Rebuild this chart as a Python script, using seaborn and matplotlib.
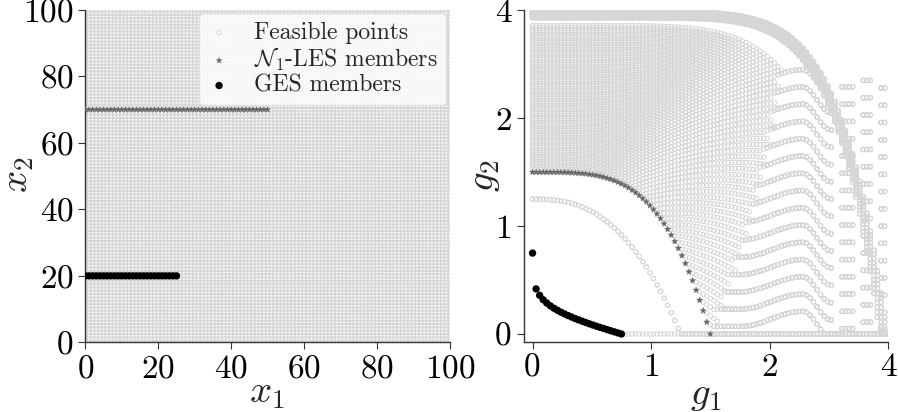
import numpy as np
import pandas as pd
import matplotlib
matplotlib.use("Agg")
import matplotlib.pyplot as plt
import seaborn as sns

# ---------------- data ----------------
x1_levels = list(range(0, 101))          # decision variable x1 (integers)
x2_levels = list(range(0, 101))          # decision variable x2 (integers)

ges_x2 = 20
ges_x1 = list(range(0, 26))
ges_g1 = [0.00, 0.03, 0.06, 0.09, 0.12, 0.15, 0.18, 0.21, 0.24, 0.27, 0.30, 0.33, 0.36,
          0.39, 0.42, 0.45, 0.48, 0.51, 0.54, 0.57, 0.60, 0.63, 0.66, 0.69, 0.72, 0.75]
ges_g2 = [0.750, 0.418, 0.358, 0.317, 0.287, 0.261, 0.239, 0.220, 0.202, 0.186, 0.171,
          0.157, 0.143, 0.130, 0.118, 0.106, 0.094, 0.083, 0.072, 0.061, 0.051, 0.040,
          0.030, 0.020, 0.010, 0.000]

les_x2 = 70
les_x1 = list(range(0, 51))
les_g1 = [0.00, 0.03, 0.06, 0.09, 0.12, 0.15, 0.18, 0.21, 0.24, 0.27, 0.30, 0.33, 0.36,
          0.39, 0.42, 0.45, 0.48, 0.51, 0.54, 0.57, 0.60, 0.63, 0.66, 0.69, 0.72, 0.75,
          0.78, 0.81, 0.84, 0.87, 0.90, 0.93, 0.96, 0.99, 1.02, 1.05, 1.08, 1.11, 1.14,
          1.17, 1.20, 1.23, 1.26, 1.29, 1.32, 1.35, 1.38, 1.41, 1.44, 1.47, 1.50]
les_g2 = [1.500, 1.500, 1.500, 1.500, 1.500, 1.500, 1.500, 1.500, 1.499, 1.499, 1.497,
          1.495, 1.493, 1.491, 1.488, 1.485, 1.480, 1.475, 1.469, 1.462, 1.454, 1.444,
          1.434, 1.422, 1.408, 1.392, 1.375, 1.356, 1.334, 1.311, 1.285, 1.256, 1.225,
          1.191, 1.153, 1.113, 1.070, 1.022, 0.971, 0.917, 0.858, 0.795, 0.727, 0.654,
          0.577, 0.495, 0.407, 0.314, 0.216, 0.111, 0.000]

g_ticks = [0, 1, 2, 4]
x_ticks = [0, 20, 40, 60, 80, 100]


# -------- objective map of the test problem (position units, axis is symlog base 2) -----
def plateau(x2):
    if x2 == ges_x2:
        return 0.75
    if x2 in (19, 21):
        return 1.25
    if 40 <= x2 <= 100:
        d = abs(x2 - les_x2)
        if x2 <= les_x2:
            return 1.5 + 0.0453 * d
        return 1.5 + 0.0453 * (d - 0.5)
    return 2.93 + 0.006 * ((x2 * 7) % 11)


def wave(u, L):
    w = np.zeros_like(u)
    m1 = (u > 1.75) & (u <= 2.28)
    w[m1] = 0.14 * (1 - np.cos(np.pi * (u[m1] - 1.75) / 0.53)) / 2
    m2 = (u > 2.28) & (u <= 2.52)
    w[m2] = 0.14 - 0.24 * (1 - np.cos(np.pi * (u[m2] - 2.28) / 0.24)) / 2
    # irregular tail: small clusters, the rest collapses onto g2 = 0
    tail = u > 2.52
    w[tail] = -L - 1.0
    c1 = (u > 2.60) & (u < 2.70)
    w[c1] = -0.02
    c2 = (u > 2.76) & (u < 2.86)
    w[c2] = 0.04
    c3 = (u > 2.92) & (u < 2.97)
    w[c3] = -0.03
    return w


def curve(x2, x1):
    u = 0.03 * np.asarray(x1, dtype=float)
    if x2 == ges_x2:
        v = np.zeros_like(u)
        v[:len(ges_g2)] = ges_g2
        return u, v
    if x2 == les_x2:
        v = np.zeros_like(u)
        v[:len(les_g2)] = les_g2
        return u, v
    G = plateau(x2)
    if G < 1.5:
        a = 2.6
    elif G < 2.9:
        a = 3.8 + 1.8 * (G - 1.5)
    else:
        a = 8.0
    t = np.clip(u / G, 0, 1)
    v = G * (1 - t ** a)
    if 40 <= x2 <= 100:
        d = abs(x2 - les_x2)
        L = 0.07 + 0.16 * ((d - 1) // 2)
        floor = L + wave(u, L)
        v = np.where(u > 2.52, floor, np.maximum(v, floor))
    return u, np.clip(v, 0, None)


def to_value(p):
    p = np.asarray(p, dtype=float)
    return np.where(p <= 2, p, 2 * 2 ** (p - 2))


rows = []
for x2 in x2_levels:
    u, v = curve(x2, x1_levels)
    for x1, uu, vv in zip(x1_levels, u, v):
        rows.append((x1, x2, uu, vv))
feas = pd.DataFrame(rows, columns=["x1", "x2", "p1", "p2"])
feas["g1"] = to_value(feas["p1"])
feas["g2"] = to_value(feas["p2"])

ges = pd.DataFrame({"x1": ges_x1, "x2": [ges_x2] * len(ges_x1), "g1": ges_g1, "g2": ges_g2})
les = pd.DataFrame({"x1": les_x1, "x2": [les_x2] * len(les_x1), "g1": les_g1, "g2": les_g2})

# ---------------- style ----------------
sns.set_style("ticks")
plt.rcParams.update({
    "font.family": "serif",
    "font.serif": ["cmr10", "DejaVu Serif"],
    "mathtext.fontset": "cm",
    "axes.formatter.use_mathtext": True,
    "axes.unicode_minus": False,
    "axes.edgecolor": "#333333",
    "axes.linewidth": 1.0,
    "xtick.color": "#333333",
    "ytick.color": "#333333",
    "xtick.labelcolor": "black",
    "ytick.labelcolor": "black",
    "xtick.major.size": 5,
    "ytick.major.size": 5,
    "xtick.labelsize": 24,
    "ytick.labelsize": 24,
})

fig = plt.figure(figsize=(8.98, 4.12), dpi=100)
axL = fig.add_axes([0.095, 0.169, 0.406, 0.807])
axR = fig.add_axes([0.583, 0.171, 0.406, 0.804])

feas_kw = dict(marker="o", s=10, facecolor="none", edgecolor="#d6d6d6", linewidth=0.7)
les_kw = dict(marker="*", s=30, color="#666666", edgecolor="none", linewidth=0)
ges_kw = dict(marker="o", s=28, color="black", edgecolor="none", linewidth=0)

# left: decision space
sns.scatterplot(data=feas, x="x1", y="x2", ax=axL, label="Feasible points", zorder=1, **feas_kw)
sns.scatterplot(data=les, x="x1", y="x2", ax=axL, label=r"$\mathcal{N}_1$-LES members", zorder=3, **les_kw)
sns.scatterplot(data=ges, x="x1", y="x2", ax=axL, label="GES members", zorder=4, **ges_kw)
axL.set_xlim(0, 100)
axL.set_ylim(0, 100)
axL.set_xticks(x_ticks)
axL.set_yticks(x_ticks)
axL.set_xlabel(r"$x_1$", fontsize=28)
axL.set_ylabel(r"$x_2$", fontsize=28)
axL.xaxis.set_label_coords(0.498, -0.100)
axL.yaxis.set_label_coords(-0.135, 0.503)
leg = axL.legend(loc="upper right", fontsize=17, frameon=True, borderaxespad=0.15,
                 handletextpad=1.0, labelspacing=0.08, borderpad=0.35, markerscale=1.0,
                 handlelength=1.0, framealpha=0.8, fancybox=True)
leg.get_frame().set_edgecolor("#dddddd")

# right: objective space
sns.scatterplot(data=feas, x="g1", y="g2", ax=axR, zorder=1, legend=False, **feas_kw)
sns.scatterplot(data=les, x="g1", y="g2", ax=axR, zorder=3, legend=False, **les_kw)
sns.scatterplot(data=ges, x="g1", y="g2", ax=axR, zorder=4, legend=False, **ges_kw)
axR.set_xscale("symlog", base=2, linthresh=2, linscale=1)
axR.set_yscale("symlog", base=2, linthresh=2, linscale=1)
axR.set_xlim(-0.076, 4)
axR.set_ylim(-0.07, 4)
axR.set_xticks(g_ticks)
axR.set_yticks(g_ticks)
axR.set_xticklabels([str(t) for t in g_ticks])
axR.set_yticklabels([str(t) for t in g_ticks])
axR.xaxis.set_minor_locator(matplotlib.ticker.NullLocator())
axR.yaxis.set_minor_locator(matplotlib.ticker.NullLocator())
axR.set_xlabel(r"$g_1$", fontsize=28)
axR.set_ylabel(r"$g_2$", fontsize=28)
axR.xaxis.set_label_coords(0.50, -0.108)
axR.yaxis.set_label_coords(-0.058, 0.50)

for ax in (axL, axR):
    sns.despine(ax=ax)

fig.savefig("out.png", dpi=100)
